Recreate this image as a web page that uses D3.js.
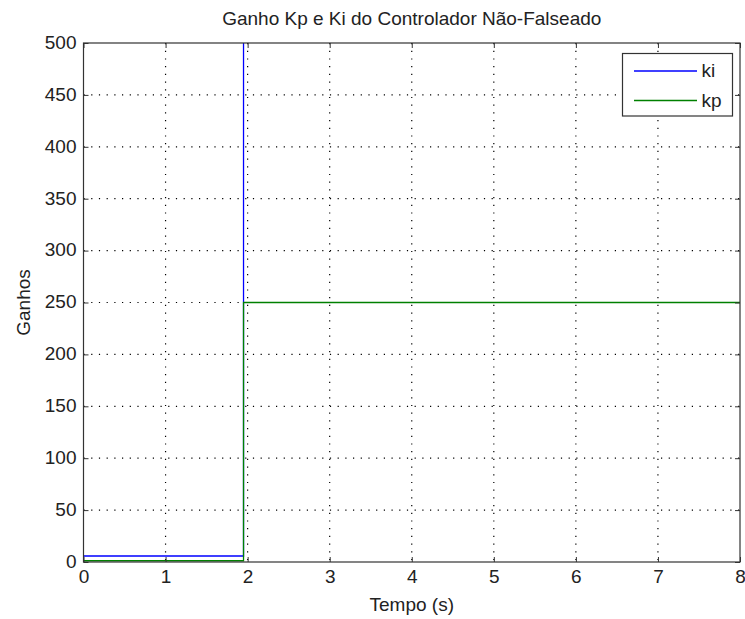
<!DOCTYPE html>
<html lang="pt">
<head>
  <meta charset="UTF-8">
  <title>Ganho Kp e Ki</title>
  <script src="https://cdn.jsdelivr.net/npm/d3@7"></script>
  <style>
    body { margin: 0; background: #fff; }
    text { font-family: "Liberation Sans", Arial, sans-serif; fill: #222; }
  </style>
</head>
<body>
  <svg id="chart" width="745" height="619"></svg>
  <script>
    // data
    const time = [0, 1.95, 1.95, 8];
    const ki = [5.8, 5.8, 5000, 5000];
    const kp = [1.2, 1.2, 250, 250];
    const xTicks = [0, 1, 2, 3, 4, 5, 6, 7, 8];
    const yTicks = [0, 50, 100, 150, 200, 250, 300, 350, 400, 450, 500];
    const seriesNames = ['ki', 'kp'];
    const seriesColors = ['#0000ff', '#008000'];

    const svg = d3.select('#chart');
    const margin = {top: 43, left: 83.5, right: 5, bottom: 57};
    const width = +svg.attr('width') - margin.left - margin.right,
          height = +svg.attr('height') - margin.top - margin.bottom;

    const x = d3.scaleLinear().domain([0, 8]).range([0, width]);
    const y = d3.scaleLinear().domain([0, 500]).range([height, 0]);

    const g = svg.append('g')
      .attr('transform', `translate(${margin.left}, ${margin.top})`);

    g.append('clipPath').attr('id', 'clip')
      .append('rect').attr('width', width).attr('height', height);

    // dotted grid
    g.append('g').selectAll('line').data(xTicks.slice(1, -1))
      .enter().append('line')
        .attr('x1', d => x(d)).attr('x2', d => x(d))
        .attr('y1', 0).attr('y2', height)
        .attr('stroke', '#000').attr('stroke-width', 1.2)
        .attr('stroke-dasharray', '1.2,6.5');
    g.append('g').selectAll('line').data(yTicks.slice(1, -1))
      .enter().append('line')
        .attr('y1', d => y(d)).attr('y2', d => y(d))
        .attr('x1', 0).attr('x2', width)
        .attr('stroke', '#000').attr('stroke-width', 1.2)
        .attr('stroke-dasharray', '1.2,6.5');

    // series
    const line = d3.line().x((d, i) => x(time[i])).y(d => y(d));
    const plot = g.append('g').attr('clip-path', 'url(#clip)');
    [ki, kp].forEach((s, i) => {
      plot.append('path')
        .attr('d', line(s))
        .attr('fill', 'none')
        .attr('stroke', seriesColors[i])
        .attr('stroke-width', 1.3);
    });

    // axes: ticks inward on all four sides
    const tickStyle = sel => {
      sel.select('.domain').remove();
      sel.selectAll('.tick line').attr('stroke', '#333');
      sel.selectAll('.tick text').style('font-size', '19px').attr('fill', '#222');
    };
    g.append('g').attr('transform', `translate(0, ${height})`)
      .call(d3.axisBottom(x).tickValues(xTicks).tickSize(-5).tickPadding(8))
      .call(tickStyle);
    g.append('g')
      .call(d3.axisTop(x).tickValues(xTicks).tickSize(-5).tickFormat(''))
      .call(tickStyle);
    g.append('g')
      .call(d3.axisLeft(y).tickValues(yTicks).tickSize(-5).tickPadding(7))
      .call(tickStyle)
      .selectAll('.tick text').attr('dy', '0.28em');
    g.append('g').attr('transform', `translate(${width}, 0)`)
      .call(d3.axisRight(y).tickValues(yTicks).tickSize(-5).tickFormat(''))
      .call(tickStyle);

    g.append('rect')
      .attr('width', width).attr('height', height)
      .attr('fill', 'none').attr('stroke', '#333').attr('stroke-width', 1.2);

    // legend
    const legend = g.append('g').attr('transform', `translate(${622.5 - margin.left}, ${53.5 - margin.top})`);
    legend.append('rect')
      .attr('width', 110).attr('height', 62.5)
      .attr('fill', '#fff').attr('stroke', '#333').attr('stroke-width', 1.2);
    seriesNames.forEach((name, i) => {
      legend.append('line')
        .attr('x1', 11.5).attr('x2', 74.5)
        .attr('y1', 17.5 + i * 29.5).attr('y2', 17.5 + i * 29.5)
        .attr('stroke', seriesColors[i]).attr('stroke-width', 1.3);
      legend.append('text')
        .attr('x', 79).attr('y', 17.5 + i * 29.5)
        .attr('dy', '0.33em')
        .style('font-size', '19px')
        .text(name);
    });

    // titles
    svg.append('text')
      .attr('x', margin.left + width / 2).attr('y', 25)
      .attr('text-anchor', 'middle')
      .style('font-size', '19px')
      .text('Ganho Kp e Ki do Controlador Não-Falseado');
    svg.append('text')
      .attr('x', margin.left + width / 2).attr('y', 611)
      .attr('text-anchor', 'middle')
      .style('font-size', '19px')
      .text('Tempo (s)');
    svg.append('text')
      .attr('transform', `translate(30, ${margin.top + height / 2}) rotate(-90)`)
      .attr('text-anchor', 'middle')
      .style('font-size', '19px')
      .text('Ganhos');
  </script>
</body>
</html>
